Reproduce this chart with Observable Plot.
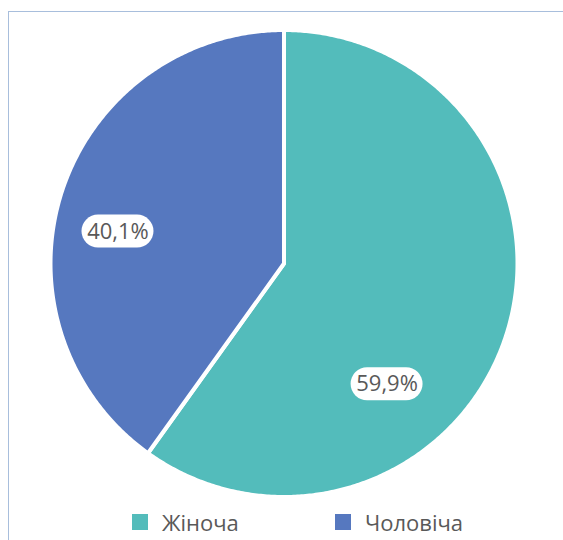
<!DOCTYPE html>
<html><head><meta charset="utf-8">
<script src="https://cdn.jsdelivr.net/npm/d3@7"></script>
<script src="https://cdn.jsdelivr.net/npm/@observablehq/plot@0.6"></script>
<style>
body{margin:0;background:#fff;font-family:"Open Sans",sans-serif;}
#wrap{position:relative;width:563px;height:540px;overflow:hidden;background:#fff;}
#chart{position:absolute;left:0;top:0;}
#border{position:absolute;left:8px;top:11px;width:700px;height:700px;border-left:1px solid #A8BEDC;border-top:1px solid #A8BEDC;}
#legend{position:absolute;top:507px;left:0;width:563px;height:30px;font-size:22px;line-height:30px;color:#595959;}
.item{position:absolute;top:0;display:flex;align-items:center;height:30px;white-space:nowrap;}
.sw{width:16px;height:16px;margin-right:14px;}
</style></head><body>
<div id="wrap"><div id="chart"></div><div id="border"></div><div id="legend"></div></div>
<script>
const categories = ["Жіноча", "Чоловіча"];
const shares = [59.9, 40.1];
const colors = ["#53BCBB", "#5678BF"];

// layout
const W = 563, H = 500;
const cx = 283.5, cy = 263, R = 233.5;
const labelAngleFrac = [0.647, 0.452];
const labelRadiusFrac = [0.68, 0.724];
const legendLeft = [132, 335];

const pie = d3.pie().sort(null).value(d => d.share)(categories.map((c, i) => ({cat: c, share: shares[i], color: colors[i]})));

const fmt = v => v.toFixed(1).replace(".", ",") + "%";

const slices = pie.map(p => {
  const n = Math.max(4, Math.ceil((p.endAngle - p.startAngle) / (Math.PI / 360)));
  const pts = [{x: cx, y: cy}];
  for (let k = 0; k <= n; k++) {
    const a = p.startAngle + (p.endAngle - p.startAngle) * k / n;
    pts.push({x: cx + R * Math.sin(a), y: cy - R * Math.cos(a)});
  }
  return {cat: p.data.cat, color: p.data.color, pts};
});

const labels = pie.map((p, i) => {
  const a = p.startAngle + (p.endAngle - p.startAngle) * labelAngleFrac[i];
  const r = R * labelRadiusFrac[i];
  return {x: cx + r * Math.sin(a), y: cy - r * Math.cos(a), text: fmt(p.data.share)};
});

const marks = [];
for (const s of slices) {
  marks.push(Plot.line(s.pts, {x: "x", y: "y", fill: s.color, stroke: "white", strokeWidth: 4, strokeLinejoin: "round", curve: "linear-closed"}));
}
marks.push(Plot.rect(labels, {x1: d => d.x - 36, x2: d => d.x + 36, y1: d => d.y - 16.5, y2: d => d.y + 16.5, fill: "white", rx: 16.5, ry: 16.5}));
marks.push(Plot.text(labels, {x: "x", y: "y", text: "text", fill: "#595959", fontSize: 22, fontFamily: "Open Sans", textAnchor: "middle", lineAnchor: "middle"}));

const chart = Plot.plot({
  width: W, height: H, margin: 0,
  x: {domain: [0, W], range: [0, W], axis: null},
  y: {domain: [0, H], range: [0, H], axis: null},
  style: {background: "transparent", overflow: "visible"},
  marks
});
document.getElementById("chart").appendChild(chart);

const leg = document.getElementById("legend");
categories.forEach((c, i) => {
  const it = document.createElement("div");
  it.className = "item";
  it.style.left = legendLeft[i] + "px";
  const sw = document.createElement("span");
  sw.className = "sw";
  sw.style.background = colors[i];
  const t = document.createElement("span");
  t.textContent = c;
  it.appendChild(sw); it.appendChild(t);
  leg.appendChild(it);
});
</script>
</body></html>
